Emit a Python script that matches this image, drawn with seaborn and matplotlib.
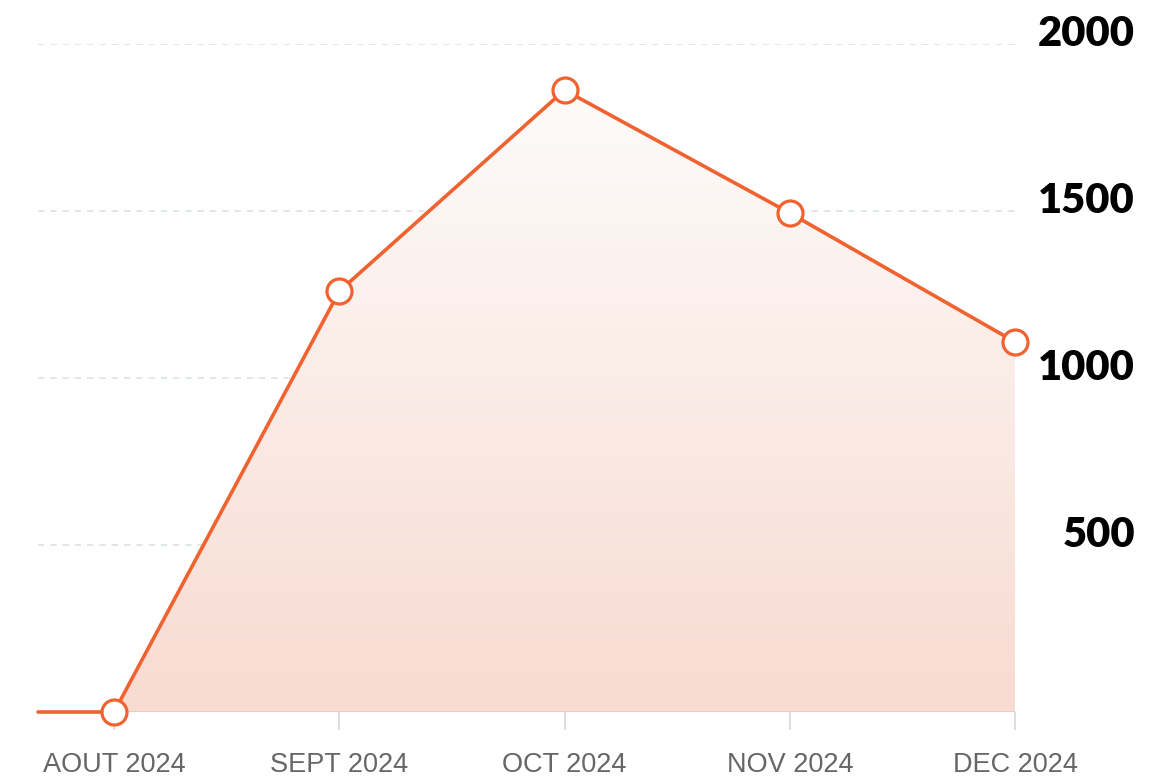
import matplotlib.pyplot as plt
import numpy as np
import seaborn as sns
from matplotlib.colors import to_rgb

# data
months = ["AOUT 2024", "SEPT 2024", "OCT 2024", "NOV 2024", "DEC 2024"]
values = [0, 1260, 1862, 1494, 1108]
prev_value = 0  # month before AOUT, runs in from the left edge
y_ticks = [500, 1000, 1500, 2000]
y_labels = ["500", "1000", "1500", "2000"]

line_color = "#f0622f"
fill_bottom = "#f8dbd1"
fill_top = "#fdfbfa"

sns.set_style("white")
plt.rcParams["font.family"] = ["Liberation Sans", "DejaVu Sans"]

fig = plt.figure(figsize=(11.6, 7.82), dpi=100)
ax = fig.add_axes([38 / 1160, 70 / 782, 977 / 1160, 668 / 782])

x = np.arange(len(months))
ax.set_xlim(-0.338, len(months) - 1)
ax.set_ylim(0, 2000)

# gradient area under the line
poly = ax.fill_between(x, 0, values, facecolor="none", edgecolor="none")
c0 = np.array(to_rgb(fill_bottom))
c1 = np.array(to_rgb(fill_top))
t = np.linspace(0, 1, 256)[:, None]
grad = (c0 * (1 - t) + c1 * t)[:, None, :]
img = ax.imshow(grad, extent=[0, len(months) - 1, 0, max(values)],
                aspect="auto", origin="lower", zorder=1)
img.set_clip_path(poly.get_paths()[0], ax.transData)
ax.hlines(0, 0, len(months) - 1, color="#efc6b8", lw=1.2, zorder=2)

# lead-in segment from the previous month
ax.plot([ax.get_xlim()[0], 0], [prev_value, values[0]], color=line_color,
        lw=2.6, clip_on=False, zorder=3)

sns.lineplot(x=x, y=values, ax=ax, color=line_color, lw=2.6, marker="o",
             markersize=18, markerfacecolor="white", markeredgecolor=line_color,
             markeredgewidth=2.3, clip_on=False, zorder=4)

# axes styling
for s in ax.spines.values():
    s.set_visible(False)
ax.set_xticks(x)
ax.set_xticklabels(months, fontsize=19.5, color="#666666")
ax.tick_params(axis="x", bottom=True, direction="out", length=13, width=1.1,
               color="#d4d4d4", pad=16)
ax.set_yticks(y_ticks)
ax.set_yticklabels([])
ax.tick_params(axis="y", left=False, right=False, length=0)
ax.yaxis.grid(True, linestyle=(0, (3.5, 3.3)), color="#dde5e8", lw=1.3)
ax.xaxis.grid(False)
ax.set_xlabel("")
ax.set_ylabel("")

for v, lab in zip(y_ticks, y_labels):
    ax.annotate(lab, xy=(1.1228, v), xycoords=("axes fraction", "data"),
                xytext=(0, 7), textcoords="offset points",
                ha="right", va="center", fontsize=30, fontweight="heavy",
                family=["Lato", "DejaVu Sans"], color="black",
                annotation_clip=False)

fig.savefig("out.png", dpi=100)
